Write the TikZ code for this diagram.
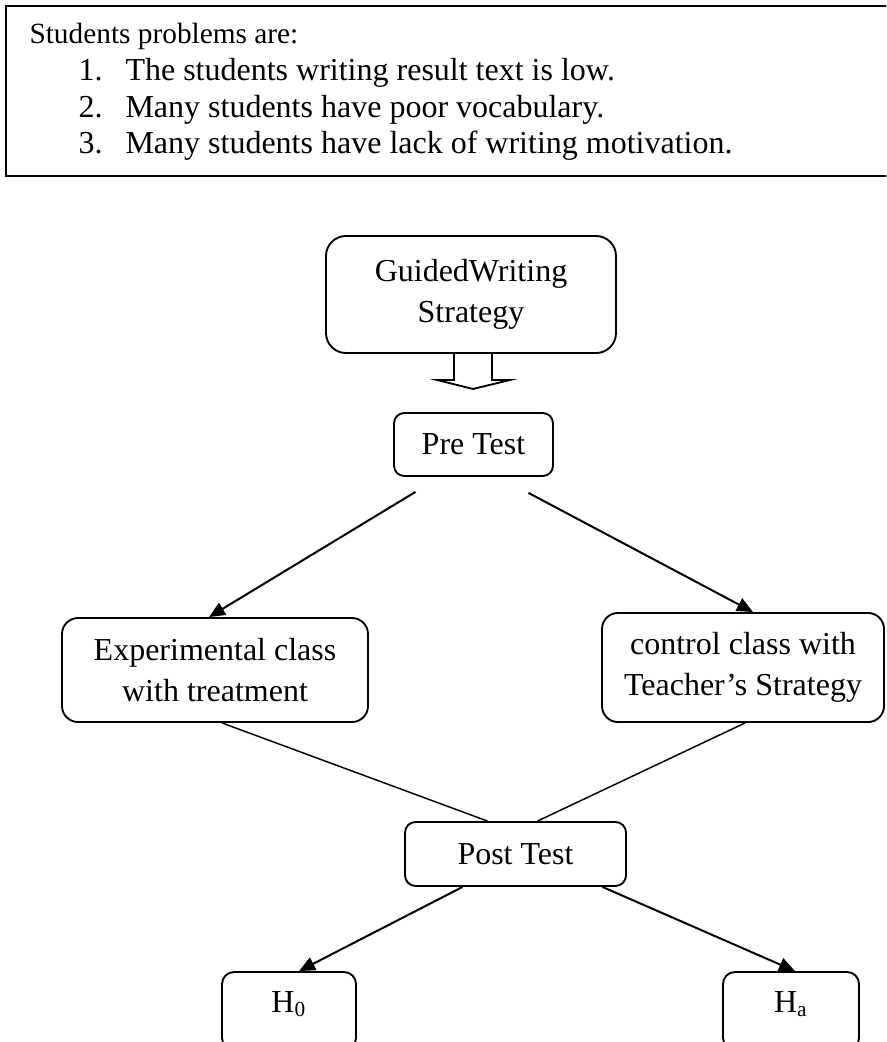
\documentclass[tikz,border=0pt]{standalone}
\usepackage{fontspec}
\setmainfont{Liberation Serif}
\usetikzlibrary{arrows.meta,calc}

\tikzset{
  box/.style={draw, line width=0.7pt, rounded corners=#1, align=center, inner sep=0pt,
    font=\fontsize{12}{15.2}\selectfont},
  box/.default=6pt,
  arr/.style={line width=0.75pt, -{Triangle[length=6pt,width=5.2pt]}},
  link/.style={line width=0.55pt},
  linetext/.style={anchor=base west, inner sep=0pt, font=\fontsize{12}{14}\selectfont},
}

\begin{document}
\begin{tikzpicture}[x=0.375pt, y=-0.375pt]
        \useasboundingbox (0,0) rectangle (886,1042);
        \clip (0,0) rectangle (886,1042);

        % problems box at the top
        \draw[line width=0.75pt] (6,6) rectangle (900,176);
        \node[linetext, font=\fontsize{11}{13}\selectfont] (title) at (29,43) {Students problems are:};
        \node[linetext] (num1) at (78,80) {1.};
        \node[linetext] (num2) at (78,117) {2.};
        \node[linetext] (num3) at (78,153) {3.};
        \node[linetext] (prob1) at (125,80) {The students writing result text is low.};
        \node[linetext] (prob2) at (125,117) {Many students have poor vocabulary.};
        \node[linetext] (prob3) at (125,153) {Many students have lack of writing motivation.};

        % flow boxes
        \node[box=7.5pt, minimum width=108.75pt, minimum height=43.9pt] (guide) at (471,294.5) {GuidedWriting\\Strategy};
        \node[box=3.8pt, minimum width=59.6pt, minimum height=23.6pt] (pre) at (473.5,444.5) {Pre Test};
        \node[box=6pt, minimum width=114.75pt, minimum height=39pt] (exp) at (215,670) {Experimental class\\with treatment};
        \node[box=6pt, minimum width=105.75pt, minimum height=40.9pt] (ctrl) at (743,667.5) {control class with\\Teacher's Strategy};
        \node[box=4pt, minimum width=82.9pt, minimum height=24pt] (post) at (515.5,854) {Post Test};
        \node[box=4.5pt, minimum width=50.25pt, minimum height=29.25pt, text height=8pt, text depth=7.25pt] (h0) at (289,1011) {H\textsubscript{0}};
        \node[box=4.5pt, minimum width=51pt, minimum height=29.25pt, text height=8pt, text depth=7.25pt] (ha) at (791,1011) {H\textsubscript{a}};

        % hollow block arrow
        \draw[line width=0.7pt] ($(guide.south)+(-17,0)$) -- ++(0,26) -- ++(-17,0)
            -- ($(guide.south)+(2,35)$) -- ($(guide.south)+(39,26)$) -- ++(-18,0) -- ++(0,-26);

        \coordinate (preL) at ($(pre.south)+(-58,15)$);
        \coordinate (preR) at ($(pre.south)+(55,16)$);

        \draw[arr] (preL) -- ($(exp.north)+(-6,0)$);
        \draw[arr] (preR) -- ($(ctrl.north)+(10,0)$);

        \draw[link] ($(exp.south)+(7,0)$) -- ($(post.north)+(-28,0)$);
        \draw[link] ($(ctrl.south)+(2,0)$) -- ($(post.north)+(22,0)$);

        \draw[arr] ($(post.south)+(-53,0)$) -- ($(h0.north)+(10,0)$);
        \draw[arr] ($(post.south)+(87,0)$) -- ($(ha.north)+(4,0)$);
\end{tikzpicture}
\end{document}
